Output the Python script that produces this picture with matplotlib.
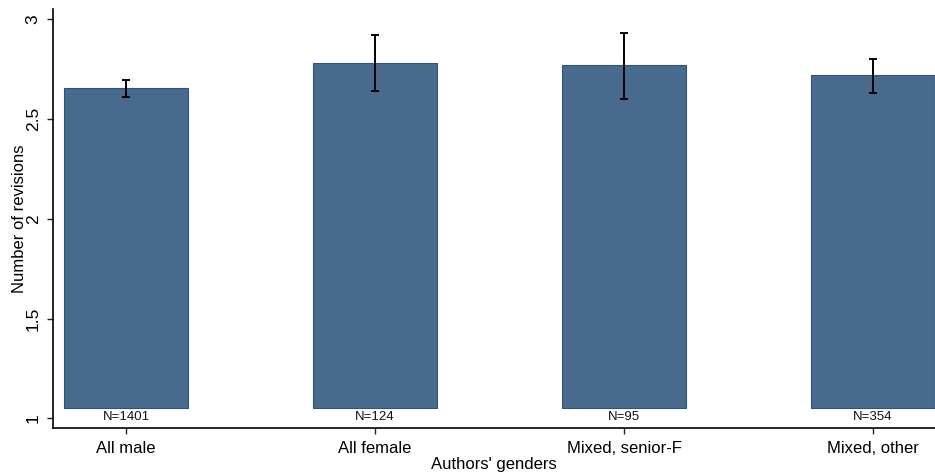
import matplotlib
matplotlib.use("Agg")
import matplotlib.pyplot as plt

categories = ["All male", "All female", "Mixed, senior-F", "Mixed, other"]
means = [2.654, 2.782, 2.771, 2.721]
ci_low = [2.612, 2.642, 2.602, 2.629]
ci_high = [2.697, 2.921, 2.931, 2.803]
counts = [1401, 124, 95, 354]
base = 1.05
yticks = [1, 1.5, 2, 2.5, 3]
ytick_labels = ["1", "1.5", "2", "2.5", "3"]

plt.rcParams['font.family'] = ['Liberation Sans', 'DejaVu Sans']

fig = plt.figure(figsize=(9.35, 4.75), dpi=100)
ax = fig.add_axes([53.3/935, (475-428.3)/475, 1 - 53.3/935, (428.3-9.3)/475])

x = list(range(len(categories)))
heights = [m - base for m in means]
ax.bar(x, heights, bottom=base, width=0.5, color='#486a8c', edgecolor='#2f5479', linewidth=0.8, zorder=2)
yerr_lo = [m - l for m, l in zip(means, ci_low)]
yerr_hi = [h - m for m, h in zip(means, ci_high)]
ax.errorbar(x, means, yerr=[yerr_lo, yerr_hi], fmt='none', ecolor='black', elinewidth=1.4, capsize=3, capthick=1.4, zorder=3)

for xi, n in zip(x, counts):
    ax.text(xi, 1.008, f"N={n}", ha='center', va='center', fontsize=9.5, color='#111111')

ax.set_xlim(-0.293, 3.249)
ax.set_ylim(0.95, 3.05)
ax.set_xticks(x)
ax.set_xticklabels(categories, fontsize=12)
ax.set_yticks(yticks)
ax.set_yticklabels(ytick_labels, fontsize=12.5, rotation=90, va='center')
ax.tick_params(axis='both', length=4, width=1, color='#222222', pad=5)
ax.spines['top'].set_visible(False)
ax.spines['right'].set_visible(False)
ax.spines['left'].set_linewidth(1.2)
ax.spines['bottom'].set_linewidth(1.2)
ax.set_xlabel("Authors' genders", fontsize=12, labelpad=1)
ax.set_ylabel("Number of revisions", fontsize=12, labelpad=-1)

fig.savefig("out.png", dpi=100)
